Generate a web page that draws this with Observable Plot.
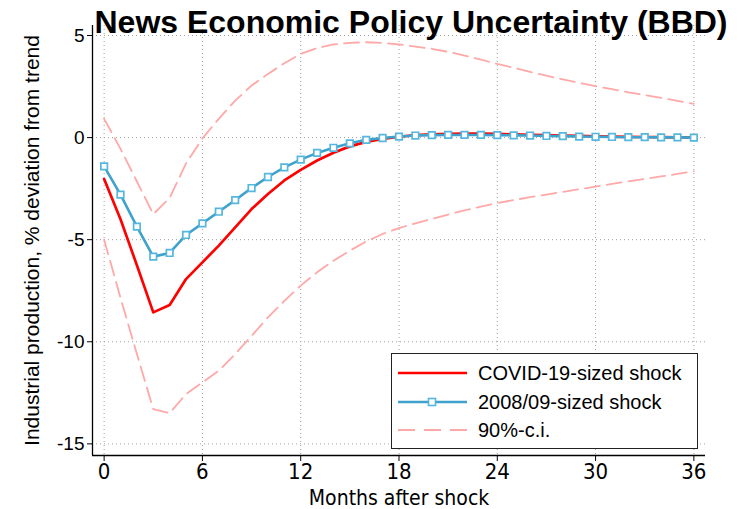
<!DOCTYPE html>
<html>
<head>
<meta charset="utf-8">
<script src="https://cdn.jsdelivr.net/npm/d3@7"></script>
<script src="https://cdn.jsdelivr.net/npm/@observablehq/plot@0.6"></script>
<style>
  body { margin: 0; background: #fff; }
  #wrap { position: relative; width: 742px; height: 509px; overflow: hidden; }
  #title { position: absolute; left: 40px; top: 6px; width: 742px; text-align: center;
           font: bold 32px/32px "Liberation Sans", Arial, sans-serif; color: #000; white-space: nowrap; }
  #legend { position: absolute; left: 391px; top: 353px; width: 305px; height: 94px;
            border: 1.5px solid #222; background: #fff; font: 20px "Liberation Sans", Arial, sans-serif; }
  .row { position: absolute; left: 0; height: 24px; width: 100%; }
  .row svg { position: absolute; left: 6px; top: 0; }
  .row span { position: absolute; left: 86px; top: 0px; white-space: nowrap; }
  .narrow { font-family: "Liberation Sans Narrow", "DejaVu Sans Condensed", "Liberation Sans", sans-serif !important; font-stretch: condensed; }
</style>
</head>
<body>
<div id="wrap">
  <div id="chart"></div>
  <div id="title"></div>
  <div id="legend"></div>
</div>
<script>
const titleText = "News Economic Policy Uncertainty (BBD)";
const yLabel = "Industrial production, % deviation from trend";
const xLabel = "Months after shock";
const seriesNames = ["COVID-19-sized shock", "2008/09-sized shock", "90%-c.i."];

const months = d3.range(0, 37);
const xTicks = [0, 6, 12, 18, 24, 30, 36];
const yTicks = [5, 0, -5, -10, -15];

const covid = [-2.03, -4.0, -6.25, -8.56, -8.2, -6.93, -6.11, -5.29, -4.4, -3.5, -2.76, -2.1, -1.58, -1.12, -0.74, -0.43, -0.21, -0.06,
  0.04, 0.12, 0.16, 0.18, 0.19, 0.19, 0.18, 0.16, 0.14, 0.12, 0.1, 0.08, 0.06, 0.05, 0.04, 0.03, 0.02, 0.01, 0.01];
const gfc = [-1.41, -2.79, -4.36, -5.83, -5.65, -4.77, -4.2, -3.63, -3.06, -2.47, -1.93, -1.46, -1.08, -0.75, -0.5, -0.28, -0.11, -0.02,
  0.05, 0.1, 0.12, 0.13, 0.13, 0.13, 0.12, 0.11, 0.1, 0.08, 0.07, 0.05, 0.04, 0.03, 0.02, 0.02, 0.01, 0.01, 0.0];
const upper = [0.92, -0.55, -2.15, -3.75, -2.96, -1.26, -0.04, 0.92, 1.81, 2.55, 3.12, 3.64, 4.1, 4.38, 4.56, 4.64, 4.67, 4.64, 4.56,
  4.46, 4.35, 4.2, 4.02, 3.82, 3.61, 3.42, 3.22, 3.03, 2.85, 2.68, 2.52, 2.37, 2.22, 2.08, 1.95, 1.8, 1.65];
const lower = [-5.0, -7.85, -10.6, -13.3, -13.5, -12.56, -11.99, -11.42, -10.6, -9.71, -8.81, -8.0, -7.25, -6.6, -6.03, -5.54, -5.08, -4.72, -4.43,
  -4.2, -3.98, -3.77, -3.56, -3.38, -3.2, -3.06, -2.92, -2.79, -2.66, -2.53, -2.4, -2.27, -2.14, -2.02, -1.9, -1.78, -1.65];

const xDomain = [-0.71, 36.71];
const yDomain = [-15.57, 5.49];

const RED = "#ff0000", BLUE = "#3fa2cc", BLUE_M = "#55b6de", PINK = "#ffa8a8";
const sans = '"Liberation Sans", Arial, sans-serif';

const tbl = (arr) => months.map((m, i) => ({m, v: arr[i]}));

const chart = Plot.plot({
  width: 742, height: 509,
  marginLeft: 92, marginRight: 37, marginTop: 25, marginBottom: 54,
  style: {fontFamily: sans, background: "transparent", overflow: "visible"},
  x: {domain: xDomain, label: null},
  y: {domain: yDomain, label: null},
  marks: [
    Plot.gridY(yTicks, {stroke: "#a0a0a0", strokeOpacity: 1, strokeDasharray: "1,3", strokeWidth: 1}),
    Plot.gridX(xTicks, {stroke: "#a0a0a0", strokeOpacity: 1, strokeDasharray: "1,3", strokeWidth: 1}),
    Plot.line(tbl(upper), {x: "m", y: "v", stroke: PINK, strokeWidth: 1.8, strokeDasharray: "15,7"}),
    Plot.line(tbl(lower), {x: "m", y: "v", stroke: PINK, strokeWidth: 1.8, strokeDasharray: "15,7"}),
    Plot.line(tbl(covid), {x: "m", y: "v", stroke: RED, strokeWidth: 2.7}),
    Plot.line(tbl(gfc), {x: "m", y: "v", stroke: BLUE, strokeWidth: 2.6}),
    Plot.dot(tbl(gfc), {x: "m", y: "v", symbol: "square", r: 3.7, stroke: BLUE_M, strokeWidth: 1.7, fill: "white"}),
    Plot.ruleX([xDomain[0]], {stroke: "#000", strokeWidth: 1.3}),
    Plot.ruleY([yDomain[0]], {stroke: "#000", strokeWidth: 1.3}),
    Plot.axisX(xTicks, {tickSize: 6, tickPadding: 2, fontSize: 22, stroke: "#000", fill: "#000",
      tickFormat: d => String(d), label: null}),
    Plot.axisY(yTicks, {tickSize: 5, tickPadding: 3, fontSize: 19, stroke: "#000", fill: "#000",
      tickFormat: d => String(d), label: null}),
    Plot.text([yLabel], {frameAnchor: "left", dx: -60, rotate: -90, textAnchor: "middle", lineAnchor: "middle", fontSize: 21, fill: "#000"}),
    Plot.text([xLabel], {frameAnchor: "bottom", dy: 49, textAnchor: "middle", lineAnchor: "bottom", fontSize: 21, fill: "#000", className: "xlab"})
  ]
});
document.getElementById("chart").appendChild(chart);

// condensed face for the x-axis tick labels and title
chart.querySelectorAll("g[aria-label='x-axis tick label'] text, .xlab text").forEach(t => t.classList.add("narrow"));

document.getElementById("title").textContent = titleText;

// legend
const legend = document.getElementById("legend");
const rows = [
  {name: seriesNames[0], y: 8, svg: `<line x1="0" x2="69" y1="11" y2="11" stroke="${RED}" stroke-width="2.7"/>`},
  {name: seriesNames[1], y: 37, svg: `<line x1="0" x2="69" y1="11" y2="11" stroke="${BLUE}" stroke-width="2.6"/><rect x="30.5" y="7.5" width="7" height="7" fill="white" stroke="${BLUE_M}" stroke-width="1.6"/>`},
  {name: seriesNames[2], y: 65, svg: `<line x1="0" x2="69" y1="11" y2="11" stroke="${PINK}" stroke-width="1.8" stroke-dasharray="17,9"/>`}
];
rows.forEach(r => {
  const d = document.createElement("div");
  d.className = "row";
  d.style.top = r.y + "px";
  d.innerHTML = `<svg width="70" height="22">${r.svg}</svg><span>${r.name}</span>`;
  legend.appendChild(d);
});
</script>
</body>
</html>
